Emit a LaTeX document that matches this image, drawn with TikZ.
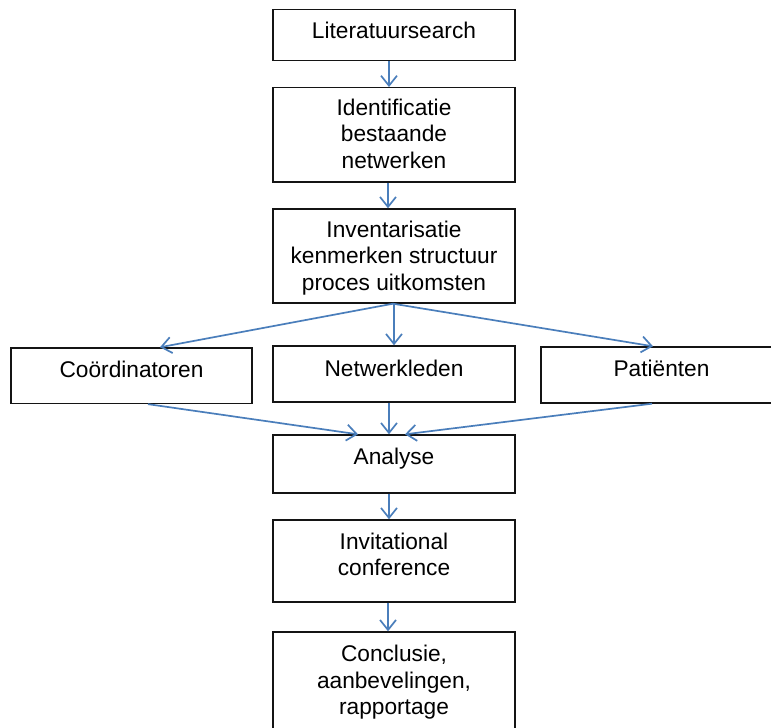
\documentclass[tikz,border=0pt]{standalone}
\usepackage{fontspec}
\setmainfont{Liberation Sans}
\usetikzlibrary{arrows.meta}
\definecolor{arrowblue}{RGB}{74,126,187}
\definecolor{boxline}{RGB}{20,20,20}
\tikzset{
  stepbox/.style={draw=boxline, line width=1.4pt, rectangle, inner sep=0pt, fill=white},
  boxtext/.style={anchor=base, align=center, inner sep=0pt,
    font=\fontsize{22.7}{26.5}\selectfont},
  flow/.style={draw=arrowblue, line width=1.7pt,
    -{Straight Barb[length=10pt,width=16pt]}}
}
\begin{document}
\begin{tikzpicture}[x=1pt,y=-1pt]
\clip (0,0) rectangle (771,728);
\fill[white] (0,0) rectangle (771,728);

% boxes
\node[stepbox, minimum width=242pt, minimum height=51pt]   (lit)  at (394,34.8) {};
\node[stepbox, minimum width=242pt, minimum height=94.3pt] (ident) at (394,134.9) {};
\node[stepbox, minimum width=242pt, minimum height=94pt]   (inv)  at (394,256) {};
\node[stepbox, minimum width=241pt, minimum height=55.5pt] (coord) at (131.5,375.7) {};
\node[stepbox, minimum width=242pt, minimum height=56pt]   (netw) at (394,374) {};
\node[stepbox, minimum width=241pt, minimum height=56pt]   (pat)  at (661.5,375) {};
\node[stepbox, minimum width=242pt, minimum height=58pt]   (ana)  at (394,464) {};
\node[stepbox, minimum width=242pt, minimum height=82pt]   (invc) at (394,561) {};
\node[stepbox, minimum width=242pt, minimum height=108pt]  (concl) at (394,686) {};

% texts (base = baseline of last line)
\node[boxtext] (tlit)   at (394,38.3)  {Literatuursearch};
\node[boxtext] (tident) at (394,168)   {Identificatie\\bestaande\\netwerken};
\node[boxtext] (tinv)   at (394,290)   {Inventarisatie\\kenmerken structuur\\proces uitkomsten};
\node[boxtext] (tcoord) at (131.5,377.5) {Co\"ordinatoren};
\node[boxtext] (tnetw)  at (394,376)   {Netwerkleden};
\node[boxtext] (tpat)   at (661.5,376.7) {Pati\"enten};
\node[boxtext] (tana)   at (394,464)   {Analyse};
\node[boxtext] (tinvc)  at (394,575.5) {Invitational\\conference};
\node[boxtext] (tconcl) at (394,714.5) {Conclusie,\\aanbevelingen,\\rapportage};

% vertical chain
\draw[flow] ([xshift=-5pt]lit.south)   -- ([xshift=-5pt]ident.north);
\draw[flow] ([xshift=-6pt]ident.south) -- ([xshift=-6pt]inv.north);
\draw[flow] ([xshift=-5pt]ana.south)   -- ([xshift=-5pt]invc.north);
\draw[flow] ([xshift=-6pt]invc.south)  -- ([xshift=-6pt]concl.north);

% fan out
\coordinate (fan) at ([xshift=-1pt]inv.south);
\draw[flow] (fan) -- ([xshift=28.5pt]coord.north);
\draw[flow] (inv.south) -- (netw.north);
\draw[flow] (fan) -- ([xshift=-8.5pt]pat.north);

% merge
\draw[flow] ([xshift=16.5pt]coord.south) -- ([xshift=-36pt]ana.north);
\draw[flow] ([xshift=-5pt]netw.south)    -- ([xshift=-5pt]ana.north);
\draw[flow] ([xshift=-9.5pt]pat.south)   -- ([xshift=11pt]ana.north);
\end{tikzpicture}
\end{document}
